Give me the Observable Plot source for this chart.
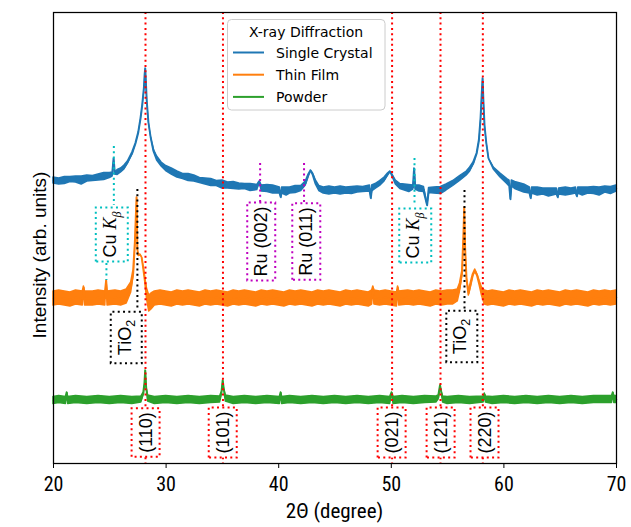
<!DOCTYPE html>
<html><head><meta charset="utf-8">
<script src="https://cdn.jsdelivr.net/npm/d3@7"></script>
<script src="https://cdn.jsdelivr.net/npm/@observablehq/plot@0.6"></script>
<style>html,body{margin:0;padding:0;background:#fff;}</style>
</head><body><div id="chart"></div>
<script>
// rows: [2θ (degree), intensity (arb. units), noise half-width]
const singleCrystal = [
 [20,283,3],[20.5,282,3],[21,283,3.5],[21.5,284,2.5],[22,284,3],[22.5,283,4],[23,285,3],[23.5,285,2.5],[24,286,3],[24.5,287,3.5],[25,288,2.5],[25.25,289,2],[25.36,305,0],[25.47,290,1],[25.7,291,2.5],[26,293,2],[26.3,296,2],[26.6,301,1],[27,310,1],[27.3,320,0],[27.55,331,0],[27.75,345,0],[27.9,358,0],[28.05,375,0],[28.12,389,0],[28.17,395,0],[28.22,383,0],[28.3,363,0],[28.45,341,0],[28.65,326,0],[28.9,313,1],[29.2,305,2],[29.6,299,2],[30,295,2.5],[30.5,292,3],[31,289,3],[31.5,287,2.5],[32,286,3.5],[32.5,285,3],[33,283,2.5],[33.5,282,3],[34,281,3.5],[34.5,280,2.5],[35,279,4],[35.5,278,3],[36,278,3.5],[36.5,277,3],[37,277,2.5],[37.5,276,3.5],[38.1,276,2.5],[38.3,282,0],[38.5,275,3],[39,275,3.5],[39.5,274,4],[40.1,273,3],[40.2,266,0],[40.3,273,3],[40.7,272,4],[41,273,3],[41.5,274,3.5],[42,275,2.5],[42.4,280,2],[42.65,288,1],[42.85,293,0],[43.05,289,1],[43.3,281,2],[43.6,275,2.5],[44,273,3],[44.5,273,4],[45,273,3],[45.5,273,4],[46,273,3],[46.5,273,3.5],[47,274,3],[47.5,274,2.5],[48.1,275,3],[48.2,265,0],[48.3,275,3],[48.6,277,2.5],[49,280,2.5],[49.4,284,2],[49.7,289,1],[49.9,292,0],[50.1,288,1],[50.4,281,2],[50.8,277,2.5],[51.2,276,3],[51.6,275,3.5],[51.95,276,2],[52.05,295,0],[52.15,276,2],[52.5,275,3],[52.9,274,2.5],[53.2,258,0],[53.35,273,2.5],[53.8,273,3],[54.4,273,3.5],[54.9,276,3],[55.5,280,2.5],[56.1,285,2.5],[56.7,290,2],[57,294,2],[57.3,300,1],[57.6,310,0],[57.8,323,0],[57.95,345,0],[58.05,368,0],[58.13,385,0],[58.2,363,0],[58.3,338,0],[58.45,321,0],[58.65,305,0],[59.1,295,1],[59.7,288,2],[60.3,282,2.5],[60.5,280,3],[60.6,264,0],[60.7,280,3],[61,278,3.5],[61.8,275,4],[62.3,273,3],[62.4,265,0],[62.5,273,3],[63,272,4],[63.5,272,3],[64,271,4],[64.7,272,3],[64.8,266,0],[64.9,272,3],[65.5,272,4],[66,272,3],[66.4,273,3],[66.5,267,0],[66.6,273,3],[67,272,4],[67.5,273,3],[68,273,3.5],[68.5,272,4],[69,274,3],[69.5,273,3.5],[70,275,3]
];
const thinFilm = [
 [20,165,7],[20.5,166,7],[21,165,7],[21.5,164,7],[22,166,7],[22.6,165,7],[22.7,176,1],[22.8,165,7],[23.5,165,7],[24,166,7],[24.6,165,7],[24.7,183,0],[24.8,165,7],[25.5,166,7],[26,165,7],[26.5,167,7],[26.9,176,5],[27.1,190,3],[27.25,220,1],[27.33,245,0],[27.4,266,0],[27.47,214,0],[27.55,208,0],[27.7,209,0],[27.85,206,0],[28,195,1],[28.15,183,2],[28.3,170,5],[28.5,160,8],[28.7,162,8],[29,165,7],[29.5,166,7],[30,165,7],[30.5,164,7],[31,166,7],[31.5,165,7],[32,166,7],[32.5,165,7],[33,164,7],[33.5,166,7],[34,165,7],[34.5,166,7],[35,165,7],[35.5,164,7],[36,166,7],[36.5,165,7],[37,166,7],[37.5,165,7],[38,164,7],[38.5,166,7],[39,165,7],[39.5,166,7],[40,165,7],[40.5,164,7],[41,166,7],[41.5,165,7],[42,166,7],[42.5,165,7],[43,164,7],[43.5,166,7],[44,165,7],[44.5,166,7],[45,165,7],[45.5,164,7],[46,166,7],[46.5,165,7],[47,166,7],[47.5,165,7],[48,164,7],[48.3,166,7],[48.4,176,1],[48.5,166,7],[49,165,7],[49.5,166,7],[50,165,7],[50.5,164,7],[50.6,176,1],[50.7,165,7],[51.5,166,7],[52,165,7],[52.5,166,7],[53,165,7],[53.5,164,7],[54,166,7],[54.5,165,7],[55,166,7],[55.5,166,7],[55.9,168,6],[56.1,176,4],[56.3,190,2],[56.42,225,0],[56.5,256,0],[56.58,215,0],[56.7,185,1],[56.88,170,2],[57.05,178,2],[57.25,188,1],[57.45,193,1],[57.65,188,1],[57.85,180,2],[58.05,172,4],[58.3,166,7],[58.6,165,7],[59,166,7],[59.5,165,7],[60,164,7],[60.5,166,7],[61,165,7],[61.5,166,7],[62,165,7],[62.5,164,7],[63,166,7],[63.5,165,7],[64,166,7],[64.5,165,7],[65,164,7],[65.5,166,7],[66,165,7],[66.5,166,7],[67,165,7],[67.5,164,7],[68,166,7],[68.5,165,7],[69,166,7],[69.5,165,7],[70,166,7]
];
const powder = [
 [20,63,3.5],[20.5,64,3.5],[21.1,63,3.5],[21.2,71,0],[21.3,63,3.5],[22,64,3.5],[23,63,3.5],[24,64,3.5],[25,63,3.5],[26,64,3.5],[27,63,3.5],[27.8,64,3],[28,70,1],[28.1,80,0],[28.17,93,0],[28.25,76,0],[28.4,65,3],[29,63,3.5],[30,64,3.5],[31,63,3.5],[32,64,3.5],[33,63,3.5],[34,64,3.5],[34.8,64,3],[34.95,72,0],[35.05,83,0],[35.15,74,0],[35.3,65,3],[36,63,3.5],[37,64,3.5],[38,63,3.5],[39,64,3.5],[40.1,63,3.5],[40.2,71,0],[40.3,63,3.5],[41,64,3.5],[42,63,3.5],[43,64,3.5],[44,63,3.5],[45,64,3.5],[46,63,3.5],[47,64,3.5],[48,63,3.5],[49,64,3.5],[49.9,63,3.5],[50.05,71,0],[50.2,63,3.5],[51,64,3.5],[52,63,3.5],[53,64,3.5],[54,64,3],[54.2,66,2],[54.35,78,0],[54.45,72,0],[54.6,64,3],[55,63,3.5],[56,64,3.5],[57,63,3.5],[58.2,64,3],[58.3,69,1],[58.4,64,3],[59,63,3.5],[60,64,3.5],[61,63,3.5],[62,64,3.5],[63,63,3.5],[64,64,3.5],[65,63,3.5],[66,64,3.5],[67,63,3.5],[68,64,3.5],[69,64,3.5],[69.6,64,3.5],[69.7,71,0],[69.8,64,3.5],[70,64,3.5]
];
const seriesNames = ["Single Crystal", "Thin Film", "Powder"];
const seriesColors = ["#1f77b4", "#ff7f0e", "#2ca02c"];
const legendTitle = "X-ray Diffraction";
const xTicks = [20, 30, 40, 50, 60, 70];
const xLabel = "2\u0398 (degree)";
const yLabel = "Intensity (arb. units)";
const rutileLines = [28.17, 35.05, 50.07, 54.37, 58.13];
const rutileLabels = ["(110)", "(101)", "(021)", "(121)", "(220)"];
const rutileLabelX = [28.2, 35.05, 50.05, 54.4, 58.3];
const rutileLabelY = 31;
const noteText = ["Cu K\u03b2", "TiO2", "Ru (002)", "Ru (011)", "Cu K\u03b2", "TiO2"];
const noteX = [25.02, 26.35, 38.47, 42.47, 51.97, 56.15];
const noteY = [229, 126, 222, 222, 228, 127];
const noteColor = ["#00bfbf", "black", "#bf00bf", "#bf00bf", "#00bfbf", "black"];
// connector guides: [2θ, from intensity, to intensity]
const guideCyan = [[25.36, 317, 258], [24.7, 200, 183], [52.06, 305, 258]];
const guideMagenta = [[38.35, 300, 260], [42.25, 300, 260]];
const guideBlack = [[27.45, 274, 153], [56.5, 273, 154]];

const dots = "2,3.3";
const marks = [];
[singleCrystal, thinFilm, powder].forEach((data, i) => {
  marks.push(Plot.areaY(data, {x: d => d[0], y1: d => d[1] - d[2], y2: d => d[1] + d[2], fill: seriesColors[i], stroke: seriesColors[i], strokeWidth: 1.5, strokeLinejoin: "round"}));
  marks.push(Plot.lineY(data, {x: d => d[0], y: d => d[1], stroke: seriesColors[i], strokeWidth: 1.5}));
});
marks.push(Plot.ruleX(rutileLines, {stroke: "red", strokeWidth: 2, strokeDasharray: dots}));
[[guideCyan, "#00bfbf"], [guideMagenta, "#bf00bf"], [guideBlack, "black"]].forEach(([g, c]) => {
  marks.push(Plot.ruleX(g, {x: d => d[0], y1: d => d[1], y2: d => d[2], stroke: c, strokeWidth: 2, strokeDasharray: dots}));
});
marks.push(Plot.text(noteText, {x: (d, i) => noteX[i], y: (d, i) => noteY[i], text: d => d, rotate: -90, fontSize: 18, fill: "black"}));
marks.push(Plot.text(rutileLabels, {x: (d, i) => rutileLabelX[i], y: () => rutileLabelY, text: d => d, rotate: -90, fontSize: 18, fill: "black"}));
marks.push(Plot.frame({stroke: "black", strokeWidth: 1.25}));
marks.push(Plot.axisX({ticks: xTicks, tickSize: 5, tickPadding: 8, fontSize: 20, label: null, tickFormat: d => String(d)}));

const svg = Plot.plot({
  width: 631, height: 527,
  marginTop: 12, marginBottom: 64, marginLeft: 53, marginRight: 15,
  style: {background: "white", fontFamily: "'Liberation Sans', Arial, sans-serif", color: "black"},
  x: {domain: [20, 70]},
  y: {domain: [0, 451], axis: null},
  marks
});
document.getElementById("chart").appendChild(svg);

const s = d3.select(svg);
const narrow = "'Liberation Sans Narrow', 'Roboto Condensed', 'DejaVu Sans Condensed', sans-serif";
s.selectAll("g[aria-label='x-axis tick label'] text, g[aria-label='x-axis tick label']").style("font-family", narrow).style("font-size", "20px");

// rich text + dotted boxes around annotations
const boxColor = {"(110)": "red", "(101)": "red", "(021)": "red", "(121)": "red", "(220)": "red"};
noteText.forEach((t, i) => boxColor[t] = noteColor[i]);
s.selectAll("text").each(function() {
  const t = this.textContent;
  if (!(t in boxColor)) return;
  if (t === "Cu K\u03b2") {
    this.innerHTML = 'Cu <tspan font-family="Liberation Serif" font-style="italic">K</tspan><tspan font-family="Liberation Serif" font-style="italic" font-size="12" dy="5">\u03b2</tspan>';
  } else if (t === "TiO2") {
    this.innerHTML = 'TiO<tspan font-size="12.5" dy="4">2</tspan>';
  }
  const b = this.getBBox();
  const padA = t === "TiO2" ? 8 : 4, padC = 4;
  const r = document.createElementNS("http://www.w3.org/2000/svg", "rect");
  r.setAttribute("x", b.x - padA); r.setAttribute("y", b.y - padC);
  r.setAttribute("width", b.width + 2 * padA); r.setAttribute("height", b.height + 2 * padC);
  const tr = this.getAttribute("transform"); if (tr) r.setAttribute("transform", tr);
  r.setAttribute("fill", "white"); r.setAttribute("stroke", boxColor[t]);
  r.setAttribute("stroke-width", 2); r.setAttribute("stroke-dasharray", dots);
  this.parentNode.insertBefore(r, this);
});

// axis titles
s.append("text").attr("transform", "translate(46,255) rotate(-90)").attr("text-anchor", "middle")
  .style("font-family", "'Liberation Sans', Arial, sans-serif").style("font-size", "19px").attr("fill", "black").text(yLabel);
s.append("text").attr("x", 334.5).attr("y", 518).attr("text-anchor", "middle")
  .style("font-family", narrow).style("font-size", "21px").attr("fill", "black").text(xLabel);

// legend
const lg = s.append("g").style("font-family", "'DejaVu Sans', sans-serif").style("font-size", "14px");
lg.append("rect").attr("x", 227.5).attr("y", 19.5).attr("width", 157.5).attr("height", 90.5).attr("rx", 4)
  .attr("fill", "white").attr("fill-opacity", 0.8).attr("stroke", "#cccccc").attr("stroke-width", 1);
lg.append("text").attr("x", 306).attr("y", 36.5).attr("text-anchor", "middle").attr("fill", "black").text(legendTitle);
seriesNames.forEach((n, i) => {
  const y = 52.5 + i * 22.2;
  lg.append("line").attr("x1", 233).attr("x2", 264).attr("y1", y).attr("y2", y).attr("stroke", seriesColors[i]).attr("stroke-width", 2);
  lg.append("text").attr("x", 276).attr("y", y + 5).attr("text-anchor", "start").attr("fill", "black").text(n);
});
</script></body></html>
